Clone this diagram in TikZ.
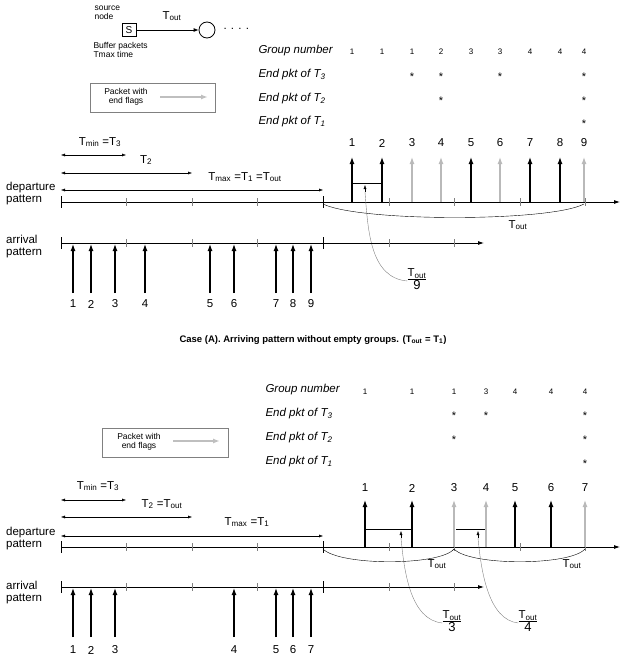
\documentclass[tikz,border=0pt]{standalone}
\usepackage{fontspec}
\setmainfont{Liberation Sans}
\usetikzlibrary{arrows.meta,positioning}
\tikzset{
  pkt/.style={-{Latex[length=7pt,width=5pt]},line width=1.2pt},
  endpkt/.style={pkt,gray!55},
  span/.style={{Latex[length=4pt,width=3pt]}-{Latex[length=4pt,width=3pt]},thin},
  axis/.style={-{Latex[length=6pt,width=4pt]},thick},
  lbl/.style={font=\fontsize{11.5}{12}\selectfont},
  row/.style={font=\itshape\fontsize{11.5}{12}\selectfont,anchor=west},
  small/.style={font=\fontsize{8}{8}\selectfont},
  star/.style={font=\fontsize{11}{11}\selectfont},
  tiny/.style={font=\fontsize{8.5}{9}\selectfont,align=left},
  frac/.style={font=\fontsize{11.5}{12}\selectfont,inner sep=0pt},
}
\newcommand{\Tout}{T\textsubscript{out}}
\newcommand{\Tfrac}[1]{\begin{tabular}{@{}c@{}}\Tout\\[-2pt]\hline\rule{0pt}{11pt}\fontsize{13}{13}\selectfont #1\end{tabular}}
\begin{document}
\begin{tikzpicture}[x=1pt,y=1pt,yscale=-1]
  \useasboundingbox (0,0) rectangle (622,661);
  %source node
  \node[tiny,anchor=west] at (91,13) {source\\node};
  \node[draw,thick,minimum width=14pt,minimum height=13pt,inner sep=0pt,font=\fontsize{10}{10}\selectfont] (src) at (129,30) {S};
  \node[draw,thick,circle,minimum size=16pt,inner sep=0pt] (nxt) at (207,30) {};
  \draw[-{Latex[length=5pt,width=4pt]},thick] (src.east) -- (nxt.west);
  \node[lbl] at (172,16) {\Tout};
  \node[lbl,anchor=west] at (220,29) {. . . .};
  \node[tiny,anchor=west] at (90,50) {Buffer packets\\Tmax time};

  %%%%%%%%%%%%%%%% Case A
  %legend
  \draw[gray] (90,83) rectangle (215,112);
  \node[tiny,align=center] at (126,97) {Packet with\\end flags};
  \draw[-{Latex[length=7pt,width=5pt]},line width=2pt,gray!50] (160,97) -- (208,97);
  %table
  \node[row] at (255,51) {Group number};
  \node[row] at (255,75) {End pkt of T\textsubscript{3}};
  \node[row] at (255,99) {End pkt of T\textsubscript{2}};
  \node[row] at (255,122) {End pkt of T\textsubscript{1}};
  \foreach \x/\g in {352/1,382/1,412/1,441/2,471/3,500/3,530/4,560/4,584/4}
    \node[small] at (\x,52) {\g};
  \foreach \x in {412,441,500,584} \node[star] at (\x,77) {*};
  \foreach \x in {441,584} \node[star] at (\x,101) {*};
  \node[star] at (584,124) {*};
  %spans
  \node[lbl] at (100,142) {T\textsubscript{min} =T\textsubscript{3}};
  \draw[span] (61,155) -- (126,155);
  \node[lbl] at (146,160) {T\textsubscript{2}};
  \draw[span] (61,173) -- (192,173);
  \node[lbl] at (245,177) {T\textsubscript{max} =T\textsubscript{1} =\Tout};
  \draw[span] (61,190) -- (323,190);
  %departure pattern
  \node[lbl,align=left,anchor=west,inner sep=1pt] at (5,194) {departure\\pattern};
  \draw[axis] (61,202) -- (620,202);
  \foreach \x in {126,192,257,389,454,520,585} \draw[thin,gray] (\x,198) -- (\x,206);
  \foreach \x in {61,323} \draw[thick] (\x,196) -- (\x,208);
  \foreach \x/\n in {352/1,382/2,471/5,530/7,560/8} {
    \draw[pkt] (\x,202) -- (\x,157);
    \node[lbl] at (\x,143) {\n};}
  \foreach \x/\n in {412/3,441/4,500/6,584/9} {
    \draw[endpkt] (\x,202) -- (\x,157);
    \node[lbl] at (\x,143) {\n};}
  \draw[thin] (352,183) -- (382,183);
  \draw[-{Latex[length=4pt,width=3pt]},thin] (365,192) -- (365,185);
  \draw[thin] (323,204) .. controls (360,222) and (550,222) .. (584,204);
  \node[lbl] at (518,225) {\Tout};
  \node[frac] (f9) at (417,281) {\Tfrac{9}};
  \draw[thin,gray] (f9.west) .. controls (370,278) and (368,230) .. (365,192);
  %arrival pattern
  \node[lbl,align=left,anchor=west,inner sep=1pt] at (5,247) {arrival\\pattern};
  \draw[axis] (61,243) -- (484,243);
  \foreach \x in {126,192,257,389,454} \draw[thin,gray] (\x,239) -- (\x,247);
  \foreach \x in {61,323} \draw[thick] (\x,237) -- (\x,249);
  \foreach \x/\n in {73/1,91/2,115/3,145/4,210/5,234/6,276/7,293/8,311/9} {
    \draw[pkt] (\x,293) -- (\x,244);
    \node[lbl] at (\x,304) {\n};}
  \node[font=\bfseries\fontsize{9.5}{10}\selectfont] at (313,340) {Case (A). Arriving pattern without empty groups. (\Tout{} = T\textsubscript{1})};

  %%%%%%%%%%%%%%%% Case B
  %legend
  \draw[gray] (102,428) rectangle (228,457);
  \node[tiny,align=center] at (139,442) {Packet with\\end flags};
  \draw[-{Latex[length=7pt,width=5pt]},line width=2pt,gray!50] (173,441) -- (220,441);
  %table
  \node[row] at (262,390) {Group number};
  \node[row] at (262,414) {End pkt of T\textsubscript{3}};
  \node[row] at (262,438) {End pkt of T\textsubscript{2}};
  \node[row] at (262,462) {End pkt of T\textsubscript{1}};
  \foreach \x/\g in {365/1,412/1,454/1,486/3,515/4,551/4,585/4}
    \node[small] at (\x,392) {\g};
  \foreach \x in {454,486,585} \node[star] at (\x,416) {*};
  \foreach \x in {454,585} \node[star] at (\x,440) {*};
  \node[star] at (585,464) {*};
  %spans
  \node[lbl] at (98,486) {T\textsubscript{min} =T\textsubscript{3}};
  \draw[span] (61,500) -- (126,500);
  \node[lbl] at (162,504) {T\textsubscript{2} =\Tout};
  \draw[span] (61,517) -- (192,517);
  \node[lbl] at (247,522) {T\textsubscript{max} =T\textsubscript{1}};
  \draw[span] (61,536) -- (323,536);
  %departure pattern
  \node[lbl,align=left,anchor=west,inner sep=1pt] at (5,539) {departure\\pattern};
  \draw[axis] (61,547) -- (620,547);
  \foreach \x in {126,192,257,389,454,520,585} \draw[thin,gray] (\x,543) -- (\x,551);
  \foreach \x in {61,323} \draw[thick] (\x,541) -- (\x,553);
  \foreach \x/\n in {365/1,412/2,515/5,551/6} {
    \draw[pkt] (\x,547) -- (\x,500);
    \node[lbl] at (\x,488) {\n};}
  \foreach \x/\n in {454/3,486/4,585/7} {
    \draw[endpkt] (\x,547) -- (\x,500);
    \node[lbl] at (\x,488) {\n};}
  \draw[thin] (365,529) -- (412,529);
  \draw[-{Latex[length=4pt,width=3pt]},thin] (401,538) -- (401,531);
  \draw[thin] (456,529) -- (485,529);
  \draw[-{Latex[length=4pt,width=3pt]},thin] (478,538) -- (478,531);
  \draw[thin] (323,549) .. controls (340,566) and (440,566) .. (454,549);
  \draw[thin] (454,549) .. controls (470,566) and (570,566) .. (585,549);
  \node[lbl] at (437,564) {\Tout};
  \node[lbl] at (572,564) {\Tout};
  \node[frac] (f3) at (452,623) {\Tfrac{3}};
  \node[frac] (f4) at (528,623) {\Tfrac{4}};
  \draw[thin,gray] (f3.west) .. controls (410,620) and (404,570) .. (401,538);
  \draw[thin,gray] (f4.west) .. controls (488,620) and (481,570) .. (478,538);
  %arrival pattern
  \node[lbl,align=left,anchor=west,inner sep=1pt] at (5,593) {arrival\\pattern};
  \draw[axis] (61,587) -- (484,587);
  \foreach \x in {126,192,257,389,454} \draw[thin,gray] (\x,583) -- (\x,591);
  \foreach \x in {61,323} \draw[thick] (\x,581) -- (\x,593);
  \foreach \x/\n in {73/1,91/2,115/3,234/4,276/5,293/6,311/7} {
    \draw[pkt] (\x,637) -- (\x,588);
    \node[lbl] at (\x,650) {\n};}
\end{tikzpicture}
\end{document}
